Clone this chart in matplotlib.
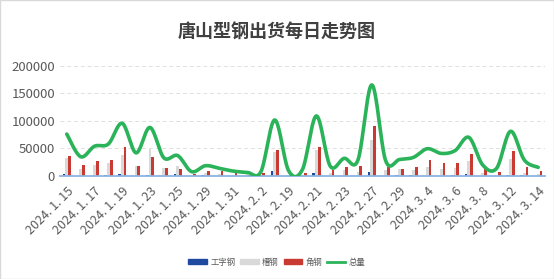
import numpy as np
import matplotlib
matplotlib.use('Agg')
import matplotlib.pyplot as plt
from matplotlib.lines import Line2D
from matplotlib.patches import Patch

plt.rcParams['font.family'] = ['Noto Sans CJK SC', 'DejaVu Sans']

dates = ['2024.1.15', '2024.1.16', '2024.1.17', '2024.1.18', '2024.1.19', '2024.1.22',
         '2024.1.23', '2024.1.24', '2024.1.25', '2024.1.26', '2024.1.29', '2024.1.30',
         '2024.1.31', '2024.2.1', '2024.2.2', '2024.2.18', '2024.2.19', '2024.2.20',
         '2024.2.21', '2024.2.22', '2024.2.23', '2024.2.26', '2024.2.27', '2024.2.28',
         '2024.2.29', '2024.3.1', '2024.3.4', '2024.3.5', '2024.3.6', '2024.3.7',
         '2024.3.8', '2024.3.11', '2024.3.12', '2024.3.13', '2024.3.14']

i_beam = [3600, 0, 0, 1800, 3600, 0, 1800, 0, 3600, 0, 2400, 0, 0, 0, 0, 9000, 0, 0,
          4800, 0, 0, 0, 6600, 0, 1800, 1200, 0, 0, 1000, 3000, 0, 0, 1000, 1800, 600]
channel = [33000, 12000, 20000, 24000, 38000, 18000, 49000, 14000, 18000, 2000, 4800, 3000,
           2400, 3000, 1800, 44000, 1500, 2000, 47000, 4800, 10900, 7800, 65000, 10900,
           12000, 10900, 17000, 12000, 14500, 26600, 4800, 2400, 31000, 6000, 3600]
angle = [36000, 20000, 28000, 29000, 52500, 19000, 35000, 15000, 13000, 3600, 9700, 8500,
         4800, 2500, 4800, 47000, 3600, 4800, 52000, 10900, 17000, 18000, 90600, 15700,
         13000, 15700, 29000, 24000, 24000, 40000, 14500, 7200, 44700, 17000, 9700]
total = [76000, 35000, 54000, 58000, 95500, 42000, 88000, 33000, 37000, 8000, 18700, 14000,
         9000, 6700, 7800, 101500, 9600, 12000, 108800, 18000, 32000, 29000, 165000, 27800,
         30000, 33800, 49500, 41000, 46000, 70000, 20000, 14000, 81000, 29000, 15700]

labels = ['工字钢', '槽钢', '角钢', '总量']
colors = ['#1f4aa0', '#d9d9d9', '#c83a32', '#2bb35a']


def smooth(x, y, n=20):
    # catmull-rom curve through the points, like excel's smoothed line
    x = np.asarray(x, float)
    y = np.asarray(y, float)
    px = np.concatenate([[x[0]], x, [x[-1]]])
    py = np.concatenate([[y[0]], y, [y[-1]]])
    xs, ys = [], []
    t = np.linspace(0, 1, n, endpoint=False)
    for i in range(1, len(px) - 2):
        for arr, out in ((px, xs), (py, ys)):
            p0, p1, p2, p3 = arr[i - 1], arr[i], arr[i + 1], arr[i + 2]
            out.extend(0.5 * (2 * p1 + (-p0 + p2) * t
                              + (2 * p0 - 5 * p1 + 4 * p2 - p3) * t ** 2
                              + (-p0 + 3 * p1 - 3 * p2 + p3) * t ** 3))
    xs.append(x[-1])
    ys.append(y[-1])
    return np.array(xs), np.array(ys)


fig = plt.figure(figsize=(5.54, 2.79), dpi=100)
fig.patches.append(plt.Rectangle((0, 0), 1, 1, transform=fig.transFigure,
                                 fill=False, edgecolor='#d9d9d9', lw=1))
ax = fig.add_axes([0.108, 0.369, 0.876, 0.396])

x = np.arange(len(dates))
w = 0.2
ax.bar(x - w, i_beam, w, color=colors[0], zorder=2)
ax.bar(x, channel, w, color=colors[1], zorder=2)
ax.bar(x + w, angle, w, color=colors[2], zorder=2)
sx, sy = smooth(x, total)
ax.plot(sx, sy, color=colors[3], lw=2.6, solid_capstyle='round', zorder=3)

ax.set_xlim(-0.5, len(dates) - 0.5)
ax.set_ylim(0, 200000)
ax.set_yticks([0, 50000, 100000, 150000, 200000])
ax.set_yticklabels(['0', '50000', '100000', '150000', '200000'])
ax.yaxis.grid(True, color='#e0e0e0', ls=(0, (4, 3)), lw=0.7, zorder=0)
ax.set_xticks(x[::2])
# the source font draws the dots wide, so pad them
ax.set_xticklabels([d.replace('.', '. ') for d in dates[::2]], rotation=45,
                   ha='right', va='top', rotation_mode='anchor')
ax.tick_params(axis='y', length=0, colors='#595959', labelsize=9.5)
ax.tick_params(axis='x', length=0, colors='#595959', labelsize=9, pad=6)
for s in ['top', 'right', 'left']:
    ax.spines[s].set_visible(False)
ax.spines['bottom'].set_color('#8eb4e3')
ax.spines['bottom'].set_linewidth(1.3)

fig.text(0.5, 0.885, '唐山型钢出货每日走势图', ha='center', va='center',
         fontsize=13, color='#404040', fontweight='bold')

handles = [Patch(color=colors[0]), Patch(color=colors[1]), Patch(color=colors[2]),
           Line2D([0], [0], color=colors[3], lw=2)]
fig.legend(handles, labels, loc='center', bbox_to_anchor=(0.5, 0.06), ncol=4,
           frameon=False, fontsize=6, labelcolor='#595959', handlelength=2.2,
           handleheight=0.6, columnspacing=0.6, handletextpad=0.4)

fig.savefig('out.png', dpi=100)
